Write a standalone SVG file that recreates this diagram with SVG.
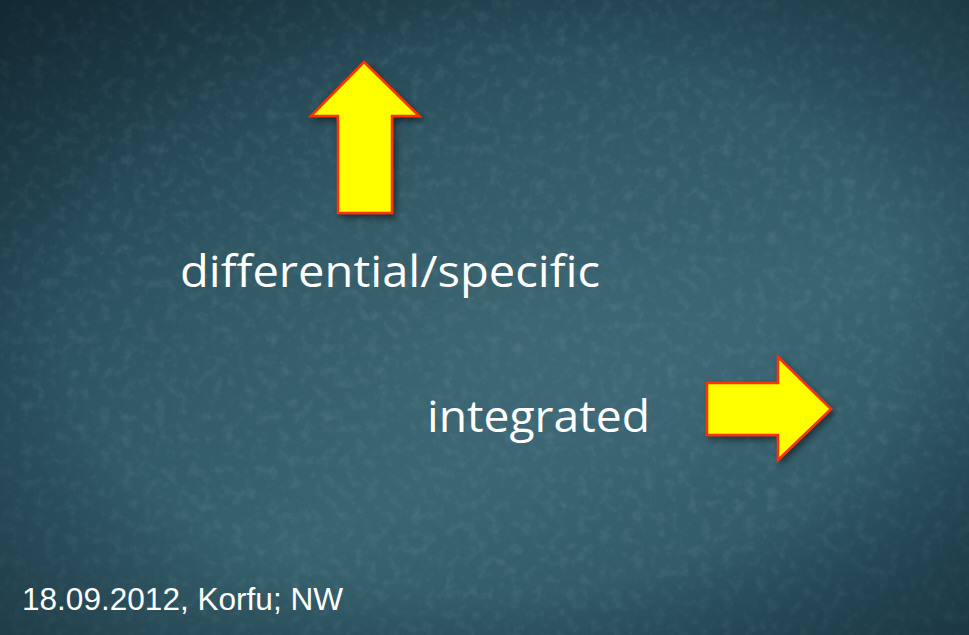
<svg xmlns="http://www.w3.org/2000/svg" width="969" height="635" viewBox="0 0 969 635">
  <defs>
    <linearGradient id="bg" x1="0" y1="0" x2="0.75" y2="1">
      <stop offset="0" stop-color="#19343f"/>
      <stop offset="0.35" stop-color="#2a505d"/>
      <stop offset="0.7" stop-color="#35606d"/>
      <stop offset="1" stop-color="#2b5260"/>
    </linearGradient>
    <radialGradient id="glow" cx="0.55" cy="0.55" r="0.55">
      <stop offset="0" stop-color="#4a7581" stop-opacity="0.45"/>
      <stop offset="1" stop-color="#4a7581" stop-opacity="0"/>
    </radialGradient>
    <radialGradient id="vignette" cx="0.5" cy="0.5" r="0.72">
      <stop offset="0.6" stop-color="#0c1f28" stop-opacity="0"/>
      <stop offset="1" stop-color="#0c1f28" stop-opacity="0.55"/>
    </radialGradient>
    <filter id="grain" x="0" y="0" width="100%" height="100%">
      <feTurbulence type="fractalNoise" baseFrequency="0.09" numOctaves="4" seed="3" result="n"/>
      <feColorMatrix in="n" type="matrix" values="0 0 0 0 0.7  0 0 0 0 0.88  0 0 0 0 0.92  0 0 0 -1.6 0.85"/>
    </filter>
    <filter id="shadow" x="-20%" y="-20%" width="150%" height="150%">
      <feDropShadow dx="3" dy="4" stdDeviation="3" flood-color="#000" flood-opacity="0.45"/>
    </filter>
    <style>
      .arrow { fill: #ffff00; stroke: #ff3300; stroke-width: 2.5; stroke-linejoin: miter; filter: url(#shadow); }
      .label { fill: #ffffff; font-family: "Open Sans", "Noto Sans", sans-serif; font-size: 44px; }
      .footer { fill: #ffffff; font-family: "Liberation Sans", Arial, sans-serif; font-size: 31px; }
    </style>
  </defs>

  <!-- textured slate background -->
  <rect width="969" height="635" fill="url(#bg)"/>
  <rect width="969" height="635" fill="url(#glow)"/>
  <rect width="969" height="635" filter="url(#grain)" opacity="0.12"/>
  <rect width="969" height="635" fill="url(#vignette)"/>

  <g id="arrow-up">
    <polygon class="arrow" points="364,62 419,116 392,116 392,213 338,213 338,116 311,116"/>
  </g>

  <g id="arrow-right">
    <polygon class="arrow" points="707,383 778,383 778,357 831,409 778,460 778,435 707,435"/>
  </g>

  <g id="label-differential">
    <text class="label" x="180" y="287" textLength="420" lengthAdjust="spacingAndGlyphs">differential/specific</text>
  </g>

  <g id="label-integrated">
    <text class="label" x="427" y="432" textLength="223" lengthAdjust="spacingAndGlyphs">integrated</text>
  </g>

  <g id="footer">
    <text class="footer" x="22" y="610" textLength="321" lengthAdjust="spacingAndGlyphs">18.09.2012, Korfu; NW</text>
  </g>
</svg>
